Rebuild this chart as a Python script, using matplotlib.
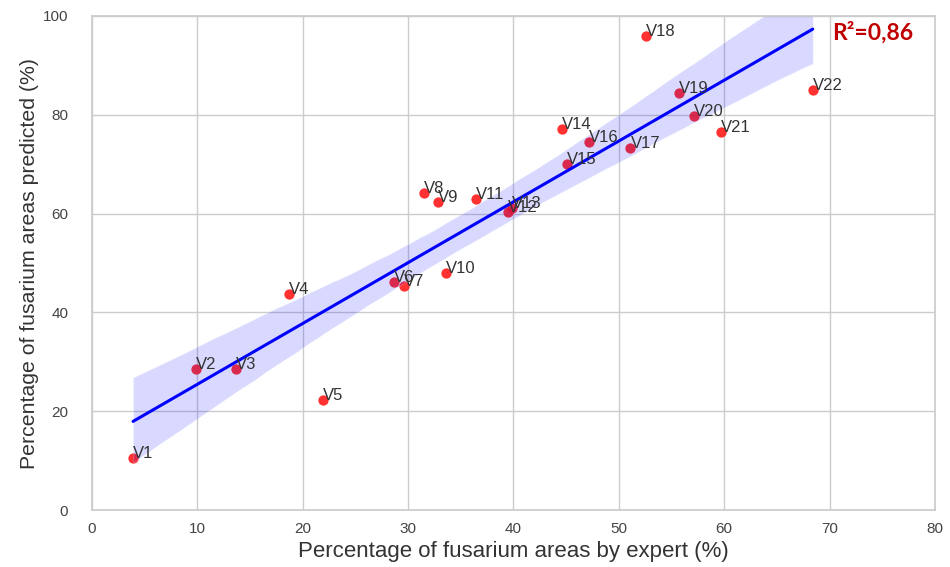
import matplotlib
matplotlib.use("Agg")
import matplotlib.pyplot as plt
import seaborn as sns
import numpy as np

# values
labels = ["V1", "V2", "V3", "V4", "V5", "V6", "V7", "V8", "V9", "V10", "V11",
          "V12", "V13", "V14", "V15", "V16", "V17", "V18", "V19", "V20", "V21", "V22"]
expert = [3.9, 9.9, 13.7, 18.7, 21.9, 28.7, 29.6, 31.5, 32.8, 33.6, 36.4,
          39.5, 39.9, 44.6, 45.1, 47.2, 51.1, 52.6, 55.7, 57.1, 59.7, 68.4]
predicted = [10.5, 28.5, 28.5, 43.7, 22.3, 46.2, 45.3, 64.2, 62.3, 48.0, 63.0,
             60.3, 61.1, 77.1, 70.0, 74.5, 73.3, 96.0, 84.4, 79.8, 76.5, 85.0]
r2_text = "R²=0,86"

sns.set_theme(style="whitegrid")
plt.rcParams['font.family'] = ['Liberation Sans', 'DejaVu Sans']

fig = plt.figure(figsize=(9.5, 5.67), dpi=100)
ax = fig.add_axes([0.0968, 0.1005, 0.8874, 0.8713])

ax.scatter(expert, predicted, color="#ff1a1a", s=55, alpha=0.9, linewidths=0)
sns.regplot(x=np.array(expert), y=np.array(predicted), ax=ax, scatter=False,
            color="blue", ci=95, seed=3, line_kws={"lw": 2.2})

for lab, x, y in zip(labels, expert, predicted):
    ax.text(x, y, lab, ha="left", va="baseline", fontsize=12, color="#333333")

ax.set_xlim(0, 80)
ax.set_ylim(0, 100)
ax.set_xticks(range(0, 81, 10))
ax.set_yticks(range(0, 101, 20))
ax.tick_params(labelsize=11, colors="#444444")
ax.tick_params(axis="y", pad=11)
ax.tick_params(axis="x", pad=2.5)
ax.set_xlabel("Percentage of fusarium areas by expert (%)", fontsize=16, color="#333333",
              labelpad=4)
ax.set_ylabel("Percentage of fusarium areas predicted (%)", fontsize=15.3, color="#333333",
              labelpad=3)

fig.text(0.876, 0.942, r2_text, fontsize=16.5, fontweight="bold", color="#c00000",
         family=["Lato", "DejaVu Sans"], ha="left", va="center")

fig.savefig("out.png", dpi=100)
